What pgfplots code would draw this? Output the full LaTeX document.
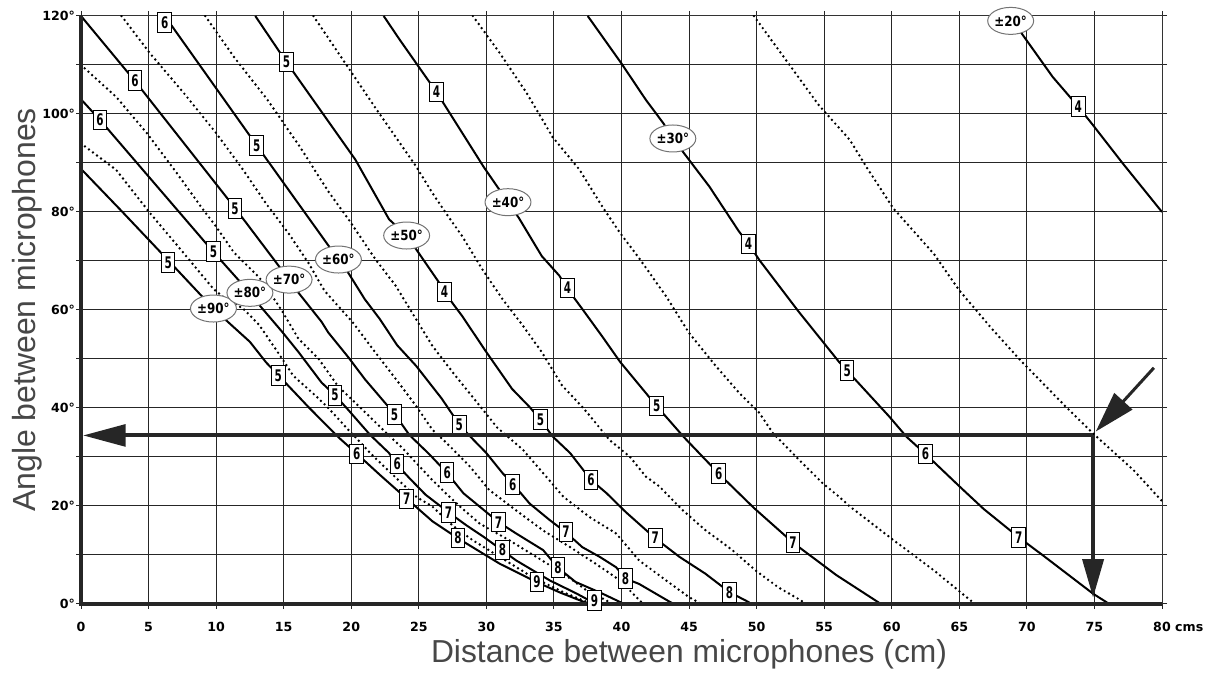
\documentclass[border=0pt]{standalone}
\usepackage{fontspec}
\usepackage{pgfplots}
\pgfplotsset{compat=1.18}
\usetikzlibrary{shapes.geometric,arrows.meta}
\newfontfamily\tickfont{DejaVu Sans}
\newfontfamily\boxfont{DejaVu Sans}[FakeStretch=0.65]
\newfontfamily\ellfont{DejaVu Sans}[FakeStretch=0.85]
\newfontfamily\labfont{Liberation Sans}

\tikzset{
  num/.style={draw=black, fill=white, line width=0.5pt, inner sep=0pt,
    minimum width=6.8pt, minimum height=9.8pt,
    font=\boxfont\bfseries\fontsize{8}{8}\selectfont},
  ang/.style={ellipse, draw=black!55, fill=white, line width=0.5pt, inner sep=0pt,
    minimum width=21.5pt, minimum height=13.5pt,
    font=\ellfont\bfseries\fontsize{7}{7}\selectfont},
  arr/.style={black!85},
}
\pgfplotsset{
  full/.style={black, line width=1pt},
  dots/.style={black, line width=1.35pt, line cap=round, dash pattern=on 0pt off 2.5pt},
}

\begin{document}
\begin{tikzpicture}
\begin{axis}[
    scale only axis, width=540.5pt, height=294pt,
    xmin=0, xmax=80, ymin=0, ymax=120,
    xtick={0,5,...,80},
    xticklabels={0,5,10,15,20,25,30,35,40,45,50,55,60,65,70,75,{80\rlap{ cms}}},
    ytick={0,10,...,120},
    yticklabels={0°,,20°,,40°,,60°,,80°,,100°,,120°},
    grid=major, grid style={black!85, line width=0.5pt},
    tick align=outside, major tick length=2.5pt,
    tick style={black!85, line width=0.5pt},
    axis line style={black!80, line width=0.5pt},
    ticklabel style={font=\tickfont\bfseries\fontsize{6.3}{6.3}\selectfont},
    xticklabel style={yshift=-3pt},
    yticklabel style={xshift=3pt},
    clip mode=individual,
]
% solid curves, +-90 ... +-20
\addplot[full] coordinates {(0,88.8)(3,80.2)(6.5,70)(9.8,60.3)(10.7,58)(12.5,53.5)(13.7,49.3)(14.6,46.7)(16.9,40)(19.1,33.9)(20.4,30.7)(22.1,26.4)(24.1,21.5)(26,16.9)(27.9,13.4)(31,8.2)(33.7,4.5)(35.4,2.4)(37.6,0)};
\addplot[full] coordinates {(0,103)(1.4,98.8)(9.75,72)(12.5,63.5)(13.2,61)(14.9,55.5)(16.1,51.4)(17.8,45.2)(18.8,42.6)(19.75,39.7)(21.4,34.5)(22.8,30.8)(23.35,28.5)(24.3,25.7)(25.5,22.3)(27.25,18.6)(28.5,16.1)(29.8,13.7)(31.15,11)(32.2,8.9)(34.7,4.8)(36.7,2.1)(38.1,0)};
\addplot[full] coordinates {(0,120)(4,106.7)(11.4,80.8)(15.4,66.2)(16.1,63.5)(17.8,57.6)(18.3,55.4)(19.8,50.3)(21,45.9)(23.2,38.8)(24.3,34.5)(25.8,30.5)(27.1,26.7)(28.3,22.6)(29.8,19.2)(30.9,16.7)(32.2,14.4)(34.2,11)(35.3,7.4)(36.6,4.5)(38.6,2.1)(40.2,0)};
\addplot[full] coordinates {(6.2,120)(13,93.6)(19.05,70.3)(19.8,67.5)(21,62.2)(22.1,58.2)(23.4,52.8)(24.8,48.6)(26.7,41.9)(28,36.6)(28.8,34.2)(30,30.8)(31.2,26.7)(32,24.4)(33.2,20.5)(34.7,17.1)(35.85,14.7)(37.1,11.6)(38.4,9.6)(39.6,7.5)(40.3,5.2)(41.3,4.1)(43.6,0.4)(43.9,0)};
\addplot[full] coordinates {(12.9,120)(15.2,110.6)(20.3,90.7)(22.8,78.5)(24.1,75.2)(24.8,72.4)(26.5,65.6)(26.9,63.6)(28.2,58.8)(30,51.4)(31.9,43.9)(33.2,40.2)(34,37.6)(34.9,34.2)(36.2,30.8)(37.75,25.3)(38.9,22.6)(40.3,18.8)(42.5,13.4)(44.3,9.6)(46.2,6.2)(48,2.4)(49.4,0.4)(49.6,0)};
\addplot[full] coordinates {(22.4,120)(23.6,115.1)(26.3,104.5)(29.8,89.2)(31.6,82)(32.4,78.8)(34.1,71)(35.4,67)(35.95,64.5)(37.1,60.2)(38.6,54.5)(39.9,49.4)(42.6,40.4)(44.6,34.1)(47.2,26.6)(49.8,19.6)(52.7,12.5)(55.9,5.9)(59.2,0)};
\addplot[full] coordinates {(37.5,120)(40,110.3)(41.8,102.9)(43.1,98.1)(43.8,95)(44.9,91)(46.5,85.2)(48.7,76)(49.4,73.5)(50.2,70.2)(53.1,59.7)(56.1,49.4)(57.5,45.2)(59.8,38.3)(61.1,34.1)(62.5,30.6)(65.05,23.9)(66.8,19.4)(69.4,13.6)(71.2,9.9)(74.9,2.1)(76.1,0)};
\addplot[full] coordinates {(68.7,120)(69.6,116.5)(71.9,107.6)(73.8,101.5)(74.9,97.7)(77.1,89.9)(80,80)};
% dotted curves in between
\addplot[dots] coordinates {(0,94)(2.6,88.6)(5.1,79.8)(7.6,71.6)(9.8,64.3)(10.6,62.5)(12,60.3)(13.2,56.9)(14.9,50)(15.7,46.6)(17.4,42.4)(18.3,40)(19.9,35.2)(20.6,33.2)(21.4,30.8)(22.3,28.4)(23.6,25)(24.8,21.9)(26,19.9)(27.5,16)(29,13)(31,9.6)(33.4,5.5)(35.7,2.4)(37.8,0)};
\addplot[dots] coordinates {(0,110)(2.6,103.5)(4.9,96)(7.1,87.9)(8.9,81)(10,77)(11.3,71.8)(13.2,66.6)(14,63.5)(14.9,59.7)(16.1,54.1)(17.6,50)(19,44.5)(20.7,40)(22.6,34.9)(23.8,31.8)(24.8,28.8)(26,25.3)(27,22.6)(28,20)(29.5,16.4)(31.7,13)(33.7,9.6)(35.7,6.2)(37.4,2.8)(38.9,0.7)(39.2,0)};
\addplot[dots] coordinates {(3,120)(5.1,112.4)(7.6,104.3)(10,96.1)(12,88.6)(13.7,81.7)(15.4,75.5)(16.9,69.3)(18,64)(20.1,57.5)(21.6,52)(23.3,45.9)(24.8,40.4)(26,35.6)(27.3,32.2)(28.8,28)(30.2,23.3)(32.2,19.1)(34.2,15)(36.2,11.6)(38.1,8.2)(39.9,4.8)(41.1,1.4)(41.6,0)};
\addplot[dots] coordinates {(9.2,120)(11.3,111.7)(13.8,102.9)(16.2,93.3)(18.3,84.2)(19.8,78.5)(21.8,70.3)(23.3,64.9)(24.8,58.1)(26,52.7)(27.7,46.6)(29.5,40.5)(30.8,36)(32.7,31.5)(34.2,26.7)(35.7,21.9)(37.6,17.8)(39.6,14.4)(41.3,8.9)(43.3,4.8)(45,1.4)(45.9,0)};
\addplot[dots] coordinates {(17.2,120)(19.4,111)(21.9,100.8)(24.8,89.3)(26,83.9)(27,79.8)(28.2,75.1)(29.7,68.3)(31.2,62.2)(32.7,56.8)(34.1,51.4)(35.6,44.6)(37.1,40.2)(37.9,37.6)(39.1,33.5)(40.6,30.1)(41.8,26)(42.8,24)(44.5,19.2)(46.2,15.1)(48.2,11)(49.9,6.9)(51.6,3.4)(53.3,0.7)(53.6,0)};
\addplot[dots] coordinates {(29,120)(31,112.4)(33,104.2)(34.9,95.3)(36.9,88.6)(38.6,81)(39.9,75.7)(41.4,70.2)(43.3,62.8)(45,55.3)(47,48.5)(48.7,43.1)(50.2,39)(51.2,34.9)(52.9,30.1)(54.9,24.6)(56.1,21.9)(56.9,19.9)(60.1,13.1)(63.1,6.9)(65.8,0.8)(66.2,0)};
\addplot[dots] coordinates {(49.8,120)(54.6,101.8)(56.9,94.7)(58.1,89.3)(60.1,80.8)(63.1,71.5)(65,64)(67.4,56.2)(69.5,49.8)(72.9,40.2)(74.9,34.8)(77.9,27.3)(80,21)};

% heavy left and bottom axis lines
\draw[black!85, line width=1.6pt] (axis cs:0,120) -- (axis cs:0,0) -- (axis cs:80,0);

% step labels on the curves
\foreach \x/\y/\t in {6.45/69.7/5, 14.6/46.6/5, 20.4/30.6/6, 24.1/21.4/7, 27.9/13.5/8, 33.75/4.5/9,
  1.4/98.8/6, 9.8/71.9/5, 18.8/42.6/5, 23.4/28.6/6, 27.2/18.7/7, 31.2/11.0/8, 38/0.7/9,
  4.0/106.8/6, 11.4/80.7/5, 23.2/38.7/5, 27.1/26.8/6, 30.9/16.7/7, 35.3/7.4/8,
  6.2/118.7/6, 13/93.6/5, 28/36.5/5, 31.95/24.4/6, 35.9/14.7/7, 40.3/5.2/8,
  15.2/110.6/5, 26.9/63.7/4, 34/37.6/5, 37.75/25.3/6, 42.5/13.5/7, 48/2.4/8,
  26.3/104.5/4, 36/64.5/4, 42.6/40.4/5, 47.2/26.6/6, 52.7/12.5/7,
  49.4/73.5/4, 56.7/47.6/5, 62.5/30.6/6, 69.4/13.6/7,
  73.8/101.5/4}
  {\edef\tmp{\noexpand\node[num] at (axis cs:\x,\y) {\t};}\tmp}

% angle labels
\foreach \x/\y/\t in {9.8/60.3/90, 12.5/63.5/80, 15.4/66.2/70, 19.05/70.3/60,
  24.1/75.2/50, 31.6/82/40, 43.8/95/30, 68.8/119/20}
  {\edef\tmp{\noexpand\node[ang] at (axis cs:\x,\y) {±\t°};}\tmp}

% reading example arrows
\draw[arr, line width=2pt, -{Triangle[length=21.3pt,width=10.8pt]}] (axis cs:74.9,34.4) -- (axis cs:0.15,34.4);
\draw[arr, line width=2pt, -{Triangle[length=19.3pt,width=10.5pt]}] (axis cs:74.9,34.4) -- (axis cs:74.9,1.3);
\draw[arr, line width=1.5pt, -{Triangle[length=20.5pt,width=12pt]}] (axis cs:79.4,48.2) -- (axis cs:75.1,35.2);

% axis titles
\node[anchor=base, text=black!72, font=\labfont\fontsize{15.9}{18}\selectfont]
  at (axis cs:45,0) [yshift=-29.4pt] {Distance between microphones (cm)};
\node[xshift=-23pt, rotate=90, anchor=base, text=black!72, font=\labfont\fontsize{16}{18}\selectfont]
  at (axis cs:0,60) {Angle between microphones};
\end{axis}
\pgfresetboundingbox
\useasboundingbox (-40.5pt,-34.5pt) rectangle (568.5pt,302pt);
\end{tikzpicture}
\end{document}
